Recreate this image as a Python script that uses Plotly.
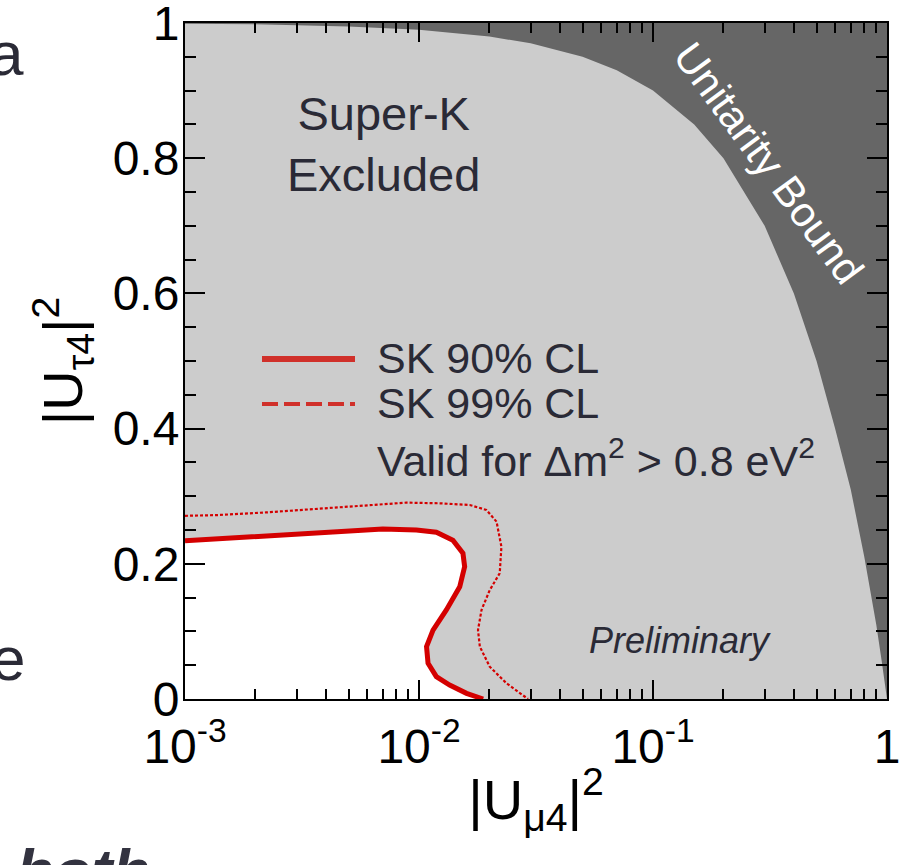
import plotly.graph_objects as go

# ---------------- data ----------------
# Unitarity bound boundary (|U_mu4|^2, |U_tau4|^2)
ub_x = [0.001, 0.002, 0.005, 0.01, 0.02, 0.03, 0.05, 0.07, 0.1, 0.15, 0.2, 0.3,
        0.4, 0.5, 0.6, 0.7, 0.8, 0.9, 0.95, 0.98, 1.0]
ub_y = [0.999, 0.998, 0.995, 0.99, 0.98, 0.97, 0.95, 0.93, 0.90, 0.85, 0.80, 0.70,
        0.60, 0.50, 0.40, 0.31, 0.21, 0.11, 0.055, 0.02, 0.0]

# SK 90% CL contour
cl90_x = [0.001, 0.00189, 0.00309, 0.00428, 0.0070, 0.00975, 0.01186, 0.01396,
          0.01541, 0.01567, 0.01493, 0.01309, 0.01148, 0.01077, 0.01093, 0.01186,
          0.01352, 0.01596, 0.0188]
cl90_y = [0.234, 0.240, 0.245, 0.2475, 0.2515, 0.250, 0.2466, 0.235,
          0.2155, 0.1957, 0.166, 0.1317, 0.102, 0.0774, 0.0528, 0.033,
          0.0207, 0.0084, 0.0]

# SK 99% CL contour
cl99_x = [0.001, 0.00136, 0.00222, 0.00364, 0.00596, 0.00883, 0.01227, 0.01648,
          0.0194, 0.02145, 0.0225, 0.02213, 0.02005, 0.0185, 0.01787, 0.0182,
          0.02005, 0.02366, 0.02924]
cl99_y = [0.271, 0.272, 0.276, 0.281, 0.287, 0.2905, 0.2895, 0.287,
          0.2796, 0.2623, 0.2253, 0.186, 0.161, 0.1317, 0.102, 0.0774,
          0.0478, 0.0232, 0.0]

x_tickvals = [0.001, 0.01, 0.1, 1]
x_ticktext = ["10<sup>-3</sup>", "10<sup>-2</sup>", "10<sup>-1</sup>", "1"]
y_tickvals = [0, 0.2, 0.4, 0.6, 0.8, 1.0]
y_ticktext = ["0", "0.2", "0.4", "0.6", "0.8", "1"]
x_minor = [m * 10 ** e for e in (-3, -2, -1) for m in range(2, 10)]
y_minor = [i * 0.05 for i in range(21)]

# ---------------- styles ----------------
FONT = "Liberation Sans, Arial, Helvetica, sans-serif"
TXT = "#2a2a36"
RED = "#d40000"
LEG_RED = "#d0302a"

fig = go.Figure()

# dark unitarity-excluded region
fig.add_trace(go.Scatter(
    x=ub_x + [1.0, 0.001], y=ub_y + [1.0, 1.0],
    fill="toself", fillcolor="#666666", mode="lines",
    line=dict(width=0, color="#666666"), hoverinfo="skip", showlegend=False))

# white allowed region inside 90% CL
fig.add_trace(go.Scatter(
    x=cl90_x + [0.001], y=cl90_y + [0.0],
    fill="toself", fillcolor="white", mode="lines",
    line=dict(width=0, color="white"), hoverinfo="skip", showlegend=False))

# 99% CL contour (dashed)
fig.add_trace(go.Scatter(
    x=cl99_x, y=cl99_y, mode="lines",
    line=dict(color=RED, width=2.2, dash="3px,2px"), showlegend=False))

# 90% CL contour (solid)
fig.add_trace(go.Scatter(
    x=cl90_x, y=cl90_y, mode="lines",
    line=dict(color=RED, width=5), showlegend=False))

L, R, T, B = 185, 12, 23, 166
W, H = 899, 865
pw, ph = W - L - R, H - T - B


def px(x):
    return (x - L) / pw


def py(y):
    return (H - B - y) / ph


# legend samples
fig.add_shape(type="line", xref="paper", yref="paper",
              x0=px(262), x1=px(355), y0=py(359), y1=py(359),
              line=dict(color=LEG_RED, width=6))
fig.add_shape(type="line", xref="paper", yref="paper",
              x0=px(262), x1=px(355), y0=py(404), y1=py(404),
              line=dict(color=LEG_RED, width=4, dash="16px,6px"))

ann = []


def text(t, x, y, size, color=TXT, xanchor="center", yanchor="middle", angle=0, italic=False, bold=False, family=FONT):
    ann.append(dict(text=t, x=px(x), y=py(y), xref="paper", yref="paper",
                    xanchor=xanchor, yanchor=yanchor, showarrow=False,
                    textangle=angle,
                    font=dict(family=family, size=size, color=color,
                              style="italic" if italic else "normal",
                              weight="bold" if bold else "normal")))


text("SK 90% CL", 375, 358, 43, xanchor="left")
text("SK 99% CL", 375, 403, 43, xanchor="left")
text("Valid for Δm<sup>2</sup> > 0.8 eV<sup>2</sup>", 375, 458, 43, xanchor="left")
text("Super-K<br>Excluded", 383, 144, 47)
text("Preliminary", 680, 640, 36, italic=True)
text("Unitarity Bound", 768, 163, 42, color="white", angle=53.6)

# slide fragments around the chart
text("a", 26, 54, 62, xanchor="right")
text("e", 27, 658, 62, xanchor="right")
text("both", 14, 834, 62, xanchor="left", yanchor="top", italic=True, bold=True, color="#333340")

fig.update_layout(annotations=ann)

axis_common = dict(
    showline=True, linecolor="black", linewidth=2, mirror="allticks",
    ticks="inside", tickcolor="black", tickwidth=1.5,
    showgrid=False, zeroline=False, automargin=False,
    ticklabeloverflow="allow",
    tickfont=dict(family=FONT, size=48, color="black"),
)

fig.update_xaxes(
    type="log", range=[-3, 0], tickmode="array",
    tickvals=x_tickvals, ticktext=x_ticktext, ticklen=19,
    minor=dict(tickmode="array", tickvals=x_minor, ticks="inside", ticklen=10,
               tickcolor="black", tickwidth=1.5, showgrid=False),
    title=dict(text="|U<sub>μ4</sub>|<sup>2</sup>", standoff=8,
               font=dict(family=FONT, size=56, color="black")),
    ticklabelstandoff=4,
    **axis_common)

fig.update_yaxes(
    range=[0, 1], tickmode="array",
    tickvals=y_tickvals, ticktext=y_ticktext, ticklen=20,
    minor=dict(tickmode="array", tickvals=y_minor, ticks="inside", ticklen=11,
               tickcolor="black", tickwidth=1.5, showgrid=False),
    title=dict(text="|U<sub>τ4</sub>|<sup>2</sup>", standoff=12,
               font=dict(family=FONT, size=56, color="black")),
    ticklabelstandoff=-6,
    **axis_common)

fig.update_layout(
    width=W, height=H,
    margin=dict(l=L, r=R, t=T, b=B, pad=0),
    plot_bgcolor="#cccccc", paper_bgcolor="white",
    showlegend=False,
)

fig.write_html("out.html")
